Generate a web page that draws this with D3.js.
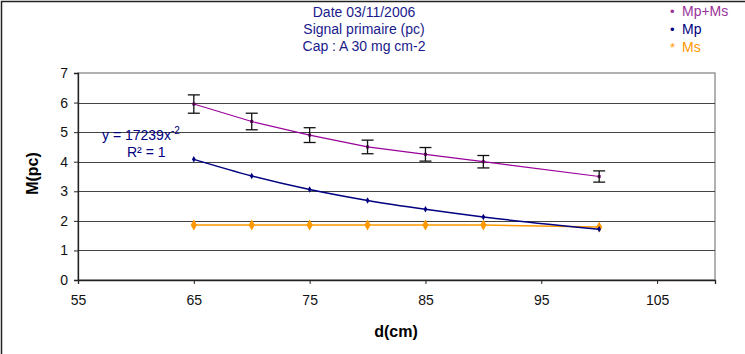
<!DOCTYPE html>
<html>
    <script src="https://d3js.org/d3.v7.min.js"></script>
    <head>
        <style>
            body { margin: 0; background: #fff; }
            text { font-family: "Liberation Sans", Arial, sans-serif; }
        </style>
    </head>
    <body>
        <svg id="chart"></svg>

        <script>
            // distances (cm)
            const distances = [65, 70, 75, 80, 85, 90, 100];
            // Mp+Ms with its error bars
            const mpms = [5.95, 5.36, 4.90, 4.50, 4.25, 4.00, 3.50];
            const mpmsErr = [0.31, 0.28, 0.25, 0.23, 0.23, 0.21, 0.19];
            // Mp (fitted y = 17239 x^-2)
            const mp = [4.08, 3.52, 3.06, 2.69, 2.39, 2.13, 1.72];
            // Ms
            const ms = [1.86, 1.86, 1.86, 1.86, 1.86, 1.86, 1.79];

            const xTicks = [55, 65, 75, 85, 95, 105];
            const yTicks = [0, 1, 2, 3, 4, 5, 6, 7];
            const titleLines = ["Date 03/11/2006", "Signal primaire (pc)", "Cap : A 30 mg cm-2"];

            const width = 745;
            const height = 354;
            const margin = { top: 73, right: 30, bottom: 74, left: 78 };

            const svg = d3.select("#chart")
                .attr("width", width)
                .attr("height", height);

            const x = d3.scaleLinear().domain([55, 110]).range([margin.left, width - margin.right]);
            const y = d3.scaleLinear().domain([0, 7]).range([height - margin.bottom, margin.top]);

            // outer chart frame
            svg.append("rect")
                .attr("x", 1.5).attr("y", 1.5)
                .attr("width", width + 10).attr("height", height + 10)
                .attr("fill", "none").attr("stroke", "#222").attr("stroke-width", 1.5);

            // plot area border
            svg.append("rect")
                .attr("x", x(55)).attr("y", y(7))
                .attr("width", x(110) - x(55)).attr("height", y(0) - y(7))
                .attr("fill", "none").attr("stroke", "#999").attr("stroke-width", 1.5);

            // gridlines
            svg.append("g")
                .selectAll("line")
                .data(yTicks.filter(d => d > 0 && d < 7))
                .join("line")
                .attr("x1", x(55)).attr("x2", x(110))
                .attr("y1", d => Math.round(y(d)) + 0.5).attr("y2", d => Math.round(y(d)) + 0.5)
                .attr("stroke", "#444").attr("stroke-width", 1);

            // axes
            const xAxis = svg.append("g")
                .attr("transform", `translate(0,${y(0)})`)
                .call(d3.axisBottom(x).tickValues(xTicks).tickSize(4).tickPadding(11));
            const yAxis = svg.append("g")
                .attr("transform", `translate(${x(55)},0)`)
                .call(d3.axisLeft(y).tickValues(yTicks).tickFormat(d3.format("d")).tickSize(4).tickPadding(6));

            [xAxis, yAxis].forEach(g => {
                g.select(".domain").attr("stroke", "#222").attr("stroke-width", 1.3);
                g.selectAll(".tick line").attr("stroke", "#222");
                g.selectAll(".tick text")
                    .attr("font-size", 14)
                    .attr("fill", "#111")
                    .style("font-family", "'Liberation Sans', Arial, sans-serif");
            });

            // Ms line (orange, diamond markers)
            const line = d3.line().x((d, i) => x(distances[i])).y(d => y(d));
            svg.append("path")
                .datum(ms)
                .attr("d", line)
                .attr("fill", "none").attr("stroke", "#ff9900").attr("stroke-width", 1.5);
            svg.append("g")
                .selectAll("path")
                .data(ms)
                .join("path")
                .attr("d", d3.symbol(d3.symbolDiamond, 34))
                .attr("transform", (d, i) => `translate(${x(distances[i])},${y(d)})`)
                .attr("fill", "#ff9900");

            // Mp line (navy)
            svg.append("path")
                .datum(mp)
                .attr("d", d3.line().x((d, i) => x(distances[i])).y(d => y(d)).curve(d3.curveMonotoneX))
                .attr("fill", "none").attr("stroke", "#000080").attr("stroke-width", 1.5);
            svg.append("g")
                .selectAll("path")
                .data(mp)
                .join("path")
                .attr("d", d3.symbol(d3.symbolDiamond, 12))
                .attr("transform", (d, i) => `translate(${x(distances[i])},${y(d)})`)
                .attr("fill", "#000080");

            // Mp+Ms line (purple)
            svg.append("path")
                .datum(mpms)
                .attr("d", line)
                .attr("fill", "none").attr("stroke", "#990099").attr("stroke-width", 1.2);
            svg.append("g")
                .selectAll("rect")
                .data(mpms)
                .join("rect")
                .attr("x", (d, i) => x(distances[i]) - 1.5)
                .attr("y", d => y(d) - 1.5)
                .attr("width", 3).attr("height", 3)
                .attr("fill", "#800080");

            // error bars
            const eb = svg.append("g").attr("stroke", "#111").attr("stroke-width", 1.3);
            mpms.forEach((v, i) => {
                const cx = x(distances[i]);
                eb.append("line")
                    .attr("x1", cx).attr("x2", cx)
                    .attr("y1", y(v + mpmsErr[i])).attr("y2", y(v - mpmsErr[i]));
                [v + mpmsErr[i], v - mpmsErr[i]].forEach(e => {
                    eb.append("line")
                        .attr("x1", cx - 6).attr("x2", cx + 6)
                        .attr("y1", y(e)).attr("y2", y(e));
                });
            });

            // trendline equation
            const eq = svg.append("text")
                .attr("x", 102).attr("y", 140)
                .attr("font-size", 14).attr("fill", "#000080");
            eq.append("tspan").text("y = 17239x");
            eq.append("tspan").attr("dy", -6).attr("font-size", 10).text("-2");
            svg.append("text")
                .attr("x", 127).attr("y", 157)
                .attr("font-size", 14).attr("fill", "#000080")
                .text("R² = 1");

            // title
            svg.append("g")
                .selectAll("text")
                .data(titleLines)
                .join("text")
                .attr("x", 364)
                .attr("y", (d, i) => 17 + i * 17)
                .attr("text-anchor", "middle")
                .attr("font-size", 14)
                .attr("fill", "#1a1a8c")
                .text(d => d);

            // legend
            const legend = [
                { name: "Mp+Ms", color: "#993399", mark: "•" },
                { name: "Mp", color: "#000080", mark: "•" },
                { name: "Ms", color: "#ff9900", mark: "*" }
            ];
            const lg = svg.append("g");
            legend.forEach((d, i) => {
                lg.append("text")
                    .attr("x", 670).attr("y", 16 + i * 18)
                    .attr("font-size", 13).attr("fill", d.color)
                    .text(d.mark);
                lg.append("text")
                    .attr("x", 682).attr("y", 16 + i * 18)
                    .attr("font-size", 14).attr("fill", d.color)
                    .text(d.name);
            });

            // axis titles
            svg.append("text")
                .attr("x", 396).attr("y", 337)
                .attr("text-anchor", "middle")
                .attr("font-size", 16).attr("font-weight", "bold")
                .text("d(cm)");
            svg.append("text")
                .attr("transform", `translate(38,${y(3.6)}) rotate(-90)`)
                .attr("text-anchor", "middle")
                .attr("font-size", 16).attr("font-weight", "bold")
                .text("M(pc)");
        </script>
    </body>
</html>
